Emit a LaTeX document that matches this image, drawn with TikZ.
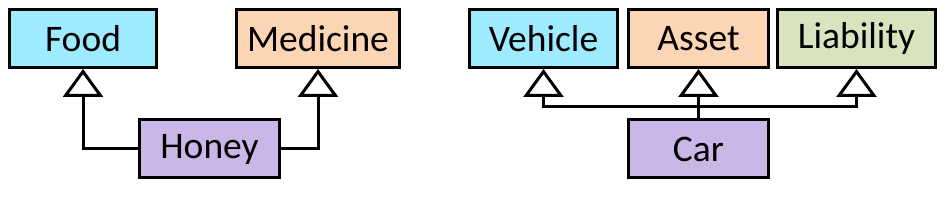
\documentclass[tikz,border=0pt]{standalone}
\usepackage{fontspec}
\setmainfont{Carlito}
\usetikzlibrary{arrows.meta}
\definecolor{cyanbox}{HTML}{9EEBFF}
\definecolor{peachbox}{HTML}{FCD5B5}
\definecolor{greenbox}{HTML}{D7E4BD}
\definecolor{purplebox}{HTML}{CBB6E8}
\begin{document}
\begin{tikzpicture}[x=1pt,y=-1pt,
  cls/.style={draw=black, line width=3pt, minimum height=58pt, inner sep=0pt,
    font=\fontsize{37.5}{40}\selectfont, text=black},
  inh/.style={line width=3pt, line join=miter,
    -{Triangle[open,length=28pt,width=40pt,line width=3pt]}}]
\useasboundingbox (0,0) rectangle (945,205);
\node[cls, fill=cyanbox, minimum width=147pt] (food) at (83,38.5) {Food};
\node[cls, fill=peachbox, minimum width=163pt] (med) at (318,38.5) {Medicine};
\node[cls, fill=purplebox, minimum width=140pt] (honey) at (209.5,149) {Honey};
\node[cls, fill=cyanbox, minimum width=148pt] (veh) at (543.5,38.5) {Vehicle};
\node[cls, fill=peachbox, minimum width=140pt] (asset) at (698.5,38.5) {Asset};
\node[cls, fill=greenbox, minimum width=158pt] (liab) at (856.5,38.5) {Liability};
\node[cls, fill=purplebox, minimum width=140pt] (car) at (698.5,149) {Car};
\coordinate (bus) at (698.5,107);
\draw[inh] (honey.west) -| (food.south);
\draw[inh] (honey.east) -| (med.south);
\draw[inh] (car.north) -- (asset.south);
\draw[inh] (bus) -| (veh.south);
\draw[inh] (bus) -| (liab.south);
\end{tikzpicture}
\end{document}
